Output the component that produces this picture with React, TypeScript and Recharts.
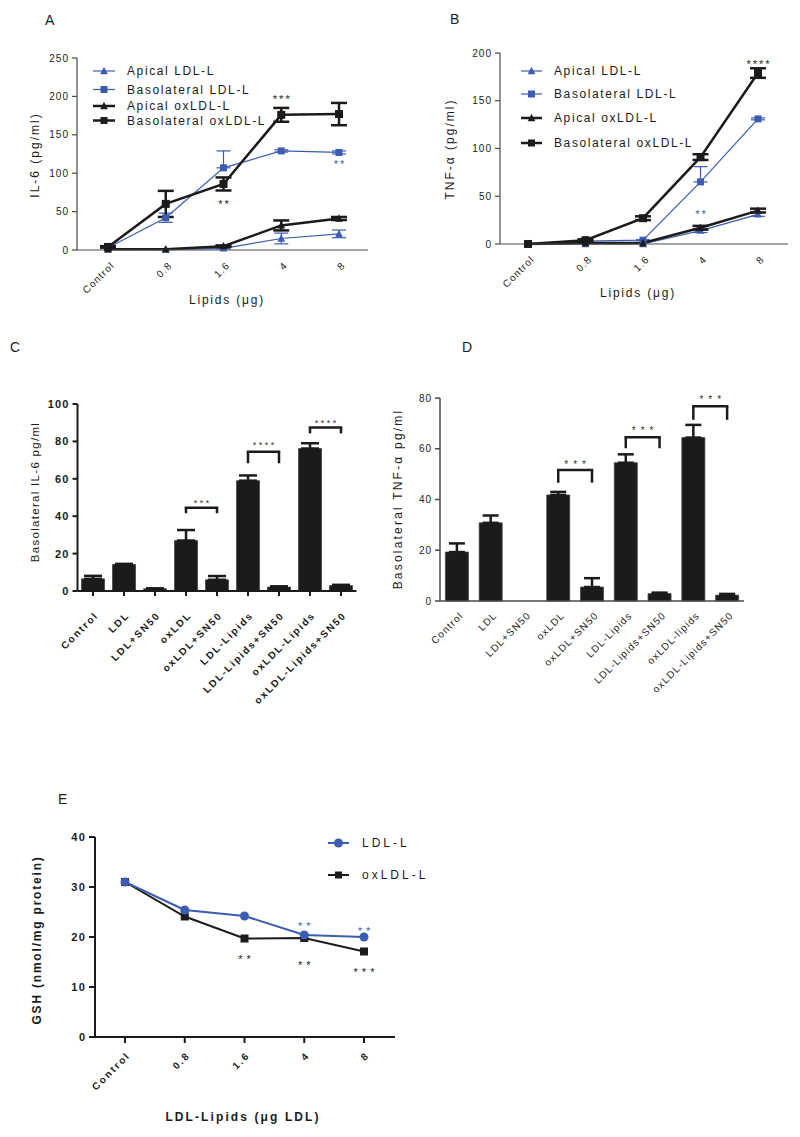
import React from "react";
import {
  LineChart, Line, BarChart, Bar, XAxis, YAxis, ErrorBar, ReferenceLine, ReferenceDot, Legend,
} from "recharts";

const FONT = '"Liberation Sans", Arial, Helvetica, sans-serif';
const BLUE = "#3b5cb0";
const INK = "#1b1b1b";
const GREY_AXIS = "#4a4a4a";

// shared x categories for the dose curves
const doses = ["Control", "0.8", "1.6", "4", "8"];

// A: IL-6 (pg/ml)
const il6ApicalLdl = [1, 0.5, 2, 15, 21];
const il6ApicalLdlErr = [0, 0, 0.5, 7, 5];
const il6BasoLdl = [3, 42, 107, 129, 127];
const il6BasoLdlErr = [0, 6, [0, 22], 1.5, 2];
const il6ApicalOx = [1, 1, 5, 32, 41];
const il6ApicalOxErr = [0, 0, 1, 6.5, 2];
const il6BasoOx = [4, 60, 86, 176, 177];
const il6BasoOxErr = [1, 17, 8.5, 9, 14.5];

// B: TNF-alpha (pg/ml)
const tnfApicalLdl = [0, 0, 0, 14, 31];
const tnfApicalLdlErr = [0, 0, 0, 2, 2];
const tnfBasoLdl = [0, 3, 4, 65, 131];
const tnfBasoLdlErr = [0, 0.5, 0.5, [0, 16], 1];
const tnfApicalOx = [0, 1, 1, 17, 35];
const tnfApicalOxErr = [0, 0, 0, 2, 2];
const tnfBasoOx = [0, 4, 27, 91, 179];
const tnfBasoOxErr = [0, 1, 2, 3, 5];

// C / D: bar groups
const groupsC = ["Control", "LDL", "LDL+SN50", "oxLDL", "oxLDL+SN50", "LDL-Lipids", "LDL-Lipids+SN50", "oxLDL-Lipids", "oxLDL-Lipids+SN50"];
const il6Bars = [6.5, 14.2, 1.2, 27, 6, 59, 2.1, 76.2, 2.9];
const il6BarsErr = [1.6, 0.3, 0.2, 5.6, 2, 2.8, 0.4, 2.8, 0.4];
const groupsD = ["Control", "LDL", "LDL+SN50", "oxLDL", "oxLDL+SN50", "LDL-Lipids", "LDL-Lipids+SN50", "oxLDL-lipids", "oxLDL-Lipids+SN50"];
const tnfBars = [19.3, 30.8, 0, 41.8, 5.5, 54.5, 2.9, 64.4, 2.3];
const tnfBarsErr = [3.4, 2.9, 0, 1.2, 3.5, 3.3, 0.4, 5, 0.5];

// significance brackets (data units)
const bracketsC = [
  { from: "oxLDL", to: "oxLDL+SN50", top: 44.5, foot: 41.6, stars: "***" },
  { from: "LDL-Lipids", to: "LDL-Lipids+SN50", top: 74.5, foot: 68.3, stars: "****" },
  { from: "oxLDL-Lipids", to: "oxLDL-Lipids+SN50", top: 87.5, foot: 84.3, stars: "****" },
];
const bracketsD = [
  { from: "oxLDL", to: "oxLDL+SN50", top: 51.6, foot: 46.6, stars: "***" },
  { from: "LDL-Lipids", to: "LDL-Lipids+SN50", top: 64.5, foot: 60.2, stars: "***" },
  { from: "oxLDL-lipids", to: "oxLDL-Lipids+SN50", top: 76.7, foot: 71.4, stars: "***" },
];

// E: GSH (nmol/mg protein)
const gshLdl = [31, 25.4, 24.2, 20.4, 20];
const gshOx = [31, 24.1, 19.7, 19.8, 17.1];

const rowsA = doses.map((d, i) => ({
  dose: d,
  apicalLdl: il6ApicalLdl[i], apicalLdlErr: il6ApicalLdlErr[i],
  basoLdl: il6BasoLdl[i], basoLdlErr: il6BasoLdlErr[i],
  apicalOx: il6ApicalOx[i], apicalOxErr: il6ApicalOxErr[i],
  basoOx: il6BasoOx[i], basoOxErr: il6BasoOxErr[i],
}));
const rowsB = doses.map((d, i) => ({
  dose: d,
  apicalLdl: tnfApicalLdl[i], apicalLdlErr: tnfApicalLdlErr[i],
  basoLdl: tnfBasoLdl[i], basoLdlErr: tnfBasoLdlErr[i],
  apicalOx: tnfApicalOx[i], apicalOxErr: tnfApicalOxErr[i],
  basoOx: tnfBasoOx[i], basoOxErr: tnfBasoOxErr[i],
}));
const rowsC = groupsC.map((g, i) => ({ group: g, value: il6Bars[i], err: [0, il6BarsErr[i]] }));
const rowsD = groupsD.map((g, i) => ({ group: g, value: tnfBars[i], err: tnfBarsErr[i] ? [0, tnfBarsErr[i]] : 0 }));
const rowsE = doses.map((d, i) => ({ dose: d, ldl: gshLdl[i], ox: gshOx[i] }));

// ---- markers ----
const triPath = (cx: number, cy: number, s: number) =>
  `M${cx},${cy - s * 0.6} L${cx + s * 0.55},${cy + s * 0.45} L${cx - s * 0.55},${cy + s * 0.45} Z`;

const triangle = (color: string, s: number) => (p: any) =>
  p.cx == null ? <g key={p.index} /> : <path key={p.index} d={triPath(p.cx, p.cy, s)} fill={color} />;
const square = (color: string, s: number) => (p: any) =>
  p.cx == null ? <g key={p.index} /> : <rect key={p.index} x={p.cx - s / 2} y={p.cy - s / 2} width={s} height={s} fill={color} />;
const circle = (color: string, r: number) => (p: any) =>
  p.cx == null ? <g key={p.index} /> : <circle key={p.index} cx={p.cx} cy={p.cy} r={r} fill={color} />;

// ---- text helpers ----
type TextOpts = { size: number; weight?: number; ls: number; fill?: string };
const txtStyle = (o: TextOpts) => ({ fontFamily: FONT, fontSize: o.size, fontWeight: o.weight || 400, letterSpacing: o.ls });

const angledTick = (dx: number, dy: number, o: TextOpts) => (p: any) => {
  const x = p.x + dx;
  const y = p.y + dy;
  return (
    <text key={p.index} x={x} y={y} transform={`rotate(-45 ${x} ${y})`} textAnchor="end" fill={o.fill || INK} style={txtStyle(o)}>
      {p.payload.value}
    </text>
  );
};

const yTick = (o: TextOpts) => (p: any) => (
  <text key={p.index} x={p.x + o.ls} y={p.y} textAnchor="end" dominantBaseline="central" fill={o.fill || INK} style={txtStyle(o)}>
    {p.payload.value}
  </text>
);

const title = (text: string, x: number, y: number, vertical: boolean, o: TextOpts) => () => (
  <text x={x} y={y} transform={vertical ? `rotate(-90 ${x} ${y})` : undefined} textAnchor="middle" dominantBaseline="central"
    fill={INK} style={txtStyle(o)}>
    {text}
  </text>
);

type LegendItem = { name: string; color: string; width: number; marker: "tri" | "sq" | "circ"; y: number };

const legendBox = (items: LegendItem[], x0: number, x1: number, tx: number, o: TextOpts) => () => (
  <svg width={800} height={200} style={{ overflow: "visible" }}>
    {items.map((it) => {
      const mx = (x0 + x1) / 2;
      return (
        <g key={it.name}>
          <line x1={x0} x2={x1} y1={it.y} y2={it.y} stroke={it.color} strokeWidth={it.width} />
          {it.marker === "tri" && <path d={triPath(mx, it.y, 7)} fill={it.color} />}
          {it.marker === "sq" && <rect x={mx - 3.5} y={it.y - 3.5} width={7} height={7} fill={it.color} />}
          {it.marker === "circ" && <circle cx={mx} cy={it.y} r={4.5} fill={it.color} />}
          <text x={tx} y={it.y} dominantBaseline="central" fill={INK} style={txtStyle(o)}>{it.name}</text>
        </g>
      );
    })}
  </svg>
);

// asterisks centred on a data point
const starDot = (x: string, y: number, text: string, color: string, size = 11, ls = 2) => (
  <ReferenceDot key={`${x}-${y}-${text}`} x={x} y={y} r={0} fill="none" stroke="none"
    label={(p: any) => (
      <text x={p.viewBox.x + ls / 2} y={p.viewBox.y} textAnchor="middle" dominantBaseline="central" fill={color}
        style={txtStyle({ size, ls })}>{text}</text>
    )} />
);

const bracket = (b: any, offset: number, o: TextOpts) => [
  <ReferenceLine key={b.from + "h"} segment={[{ x: b.from, y: b.top }, { x: b.to, y: b.top }]} stroke={INK} strokeWidth={2.5}
    strokeLinecap="square"
    label={(p: any) => (
      <text x={p.viewBox.x + p.viewBox.width / 2 + o.ls / 2} y={p.viewBox.y - offset} textAnchor="middle" fill="#333"
        style={txtStyle(o)}>{b.stars}</text>
    )} />,
  <ReferenceLine key={b.from + "l"} segment={[{ x: b.from, y: b.top }, { x: b.from, y: b.foot }]} stroke={INK} strokeWidth={2.5} />,
  <ReferenceLine key={b.from + "r"} segment={[{ x: b.to, y: b.top }, { x: b.to, y: b.foot }]} stroke={INK} strokeWidth={2.5} />,
];

const legendAB = (rows: number[]): LegendItem[] => [
  { name: "Apical LDL-L", color: BLUE, width: 1.2, marker: "tri", y: rows[0] },
  { name: "Basolateral LDL-L", color: BLUE, width: 1.2, marker: "sq", y: rows[1] },
  { name: "Apical oxLDL-L", color: INK, width: 2.5, marker: "tri", y: rows[2] },
  { name: "Basolateral oxLDL-L", color: INK, width: 2.5, marker: "sq", y: rows[3] },
];

const doseSeries = () => [
  <Line key="al" dataKey="apicalLdl" stroke={BLUE} strokeWidth={1.2} dot={triangle(BLUE, 7)} activeDot={false} isAnimationActive={false}>
    <ErrorBar dataKey="apicalLdlErr" width={7} stroke={BLUE} strokeWidth={1.2} direction="y" isAnimationActive={false} />
  </Line>,
  <Line key="bl" dataKey="basoLdl" stroke={BLUE} strokeWidth={1.2} dot={square(BLUE, 7)} activeDot={false} isAnimationActive={false}>
    <ErrorBar dataKey="basoLdlErr" width={7} stroke={BLUE} strokeWidth={1.2} direction="y" isAnimationActive={false} />
  </Line>,
  <Line key="ao" dataKey="apicalOx" stroke={INK} strokeWidth={2.5} dot={triangle(INK, 7)} activeDot={false} isAnimationActive={false}>
    <ErrorBar dataKey="apicalOxErr" width={8} stroke={INK} strokeWidth={2.5} direction="y" isAnimationActive={false} />
  </Line>,
  <Line key="bo" dataKey="basoOx" stroke={INK} strokeWidth={2.5} dot={square(INK, 8)} activeDot={false} isAnimationActive={false}>
    <ErrorBar dataKey="basoOxErr" width={8} stroke={INK} strokeWidth={2.5} direction="y" isAnimationActive={false} />
  </Line>,
];

const yTickLight: TextOpts = { size: 10, ls: 1, fill: "#222" };
const yTickBold: TextOpts = { size: 11, ls: 1.2, weight: 700 };

function PanelLetter({ ch, left, top }: { ch: string; left: number; top: number }) {
  return <div style={{ position: "absolute", left, top, fontSize: 14, lineHeight: "16px", fontFamily: FONT, color: INK }}>{ch}</div>;
}

export default function App() {
  return (
    <div style={{ position: "absolute", left: 0, top: 0, width: 800, height: 1137, background: "#fff", fontFamily: FONT }}>
      <PanelLetter ch="A" left={45} top={12} />
      <PanelLetter ch="B" left={450} top={11} />
      <PanelLetter ch="C" left={10} top={339} />
      <PanelLetter ch="D" left={462} top={339} />
      <PanelLetter ch="E" left={58} top={791} />

      {/* A */}
      <div style={{ position: "absolute", left: 0, top: 0 }}>
        <LineChart width={400} height={320} data={rowsA} margin={{ top: 58, right: 32, left: 0, bottom: 0 }}>
          <XAxis dataKey="dose" height={70} padding={{ left: 31, right: 29 }} interval={0} tickSize={0} tickMargin={0} tickLine={false}
            axisLine={{ stroke: GREY_AXIS, strokeWidth: 1.2 }}
            tick={angledTick(7, 16, { size: 10, ls: 1.1 })}
            label={title("Lipids (μg)", 227, 300, false, { size: 12, ls: 1.8 })} />
          <YAxis width={77} domain={[0, 250]} ticks={[0, 50, 100, 150, 200, 250]} tickSize={5} tickMargin={4}
            axisLine={{ stroke: GREY_AXIS, strokeWidth: 1.2 }} tickLine={{ stroke: GREY_AXIS, strokeWidth: 1.2 }} tick={yTick(yTickLight)}
            label={title("IL-6 (pg/ml)", 35, 155, true, { size: 12, ls: 2 })} />
          {doseSeries()}
          {starDot("4", 197, "***", INK)}
          {starDot("1.6", 60.5, "**", INK)}
          {starDot("8", 112.6, "**", BLUE)}
          <Legend layout="vertical" align="center" verticalAlign="middle" wrapperStyle={{ left: 0, top: 0 }}
            content={legendBox(legendAB([71, 89.5, 106, 120.5]), 93, 115, 127, { size: 12, ls: 1.6 })} />
        </LineChart>
      </div>

      {/* B */}
      <div style={{ position: "absolute", left: 400, top: 0 }}>
        <LineChart width={400} height={320} data={rowsB} margin={{ top: 53, right: 12, left: 0, bottom: 0 }}>
          <XAxis dataKey="dose" height={76} padding={{ left: 28, right: 30 }} interval={0} tickSize={0} tickMargin={0} tickLine={false}
            axisLine={{ stroke: GREY_AXIS, strokeWidth: 1.2 }}
            tick={angledTick(7, 16, { size: 10, ls: 1.1 })}
            label={title("Lipids (μg)", 238, 293, false, { size: 12, ls: 1.8 })} />
          <YAxis width={100} domain={[0, 200]} ticks={[0, 50, 100, 150, 200]} tickSize={5} tickMargin={4}
            axisLine={{ stroke: GREY_AXIS, strokeWidth: 1.2 }} tickLine={{ stroke: GREY_AXIS, strokeWidth: 1.2 }} tick={yTick(yTickLight)}
            label={title("TNF-α (pg/ml)", 50, 149, true, { size: 12, ls: 2 })} />
          {doseSeries()}
          {starDot("8", 188.8, "****", INK)}
          {starDot("4", 31.7, "**", BLUE)}
          <Legend layout="vertical" align="center" verticalAlign="middle" wrapperStyle={{ left: 0, top: 0 }}
            content={legendBox(legendAB([71, 94, 118, 143]), 121, 142, 154, { size: 12, ls: 1.6 })} />
        </LineChart>
      </div>

      {/* C */}
      <div style={{ position: "absolute", left: 0, top: 330 }}>
        <BarChart width={390} height={400} data={rowsC} margin={{ top: 74, right: 33.5, left: 0, bottom: 0 }} barCategoryGap="13%">
          <XAxis dataKey="group" height={139} interval={0} tickSize={5} tickMargin={0}
            axisLine={{ stroke: INK, strokeWidth: 2 }} tickLine={{ stroke: INK, strokeWidth: 2 }}
            tick={angledTick(6, 20, { size: 10, ls: 1.8, weight: 700 })} />
          <YAxis width={77.5} domain={[0, 100]} ticks={[0, 20, 40, 60, 80, 100]} tickSize={5} tickMargin={4}
            axisLine={{ stroke: INK, strokeWidth: 2 }} tickLine={{ stroke: INK, strokeWidth: 2 }} tick={yTick(yTickBold)}
            label={title("Basolateral IL-6 pg/ml", 35, 162, true, { size: 11.5, ls: 1.3 })} />
          <Bar dataKey="value" fill={INK} stroke="#444" strokeWidth={0.8} isAnimationActive={false}>
            <ErrorBar dataKey="err" width={9} stroke={INK} strokeWidth={2.5} direction="y" isAnimationActive={false} />
          </Bar>
          {bracketsC.map((b, i) => bracket(b, [1.6, 4, 1.5][i], { size: 9, ls: 2.5 }))}
        </BarChart>
      </div>

      {/* D */}
      <div style={{ position: "absolute", left: 390, top: 330 }}>
        <BarChart width={410} height={400} data={rowsD} margin={{ top: 68, right: 56, left: 0, bottom: 0 }} barCategoryGap="16%">
          <XAxis dataKey="group" height={129} interval={0} tickSize={0} tickMargin={0} tickLine={false}
            axisLine={{ stroke: GREY_AXIS, strokeWidth: 1.5 }}
            tick={angledTick(7, 15, { size: 10, ls: 1.2 })} />
          <YAxis width={50} domain={[0, 80]} ticks={[0, 20, 40, 60, 80]} tickSize={5} tickMargin={4}
            axisLine={{ stroke: GREY_AXIS, strokeWidth: 1.5 }} tickLine={{ stroke: GREY_AXIS, strokeWidth: 1.5 }} tick={yTick(yTickLight)}
            label={title("Basolateral TNF-α pg/ml", 8, 169, true, { size: 12, ls: 2.2 })} />
          <Bar dataKey="value" fill={INK} stroke="#444" strokeWidth={0.8} isAnimationActive={false}>
            <ErrorBar dataKey="err" width={8} stroke={INK} strokeWidth={2.5} direction="y" isAnimationActive={false} />
          </Bar>
          {bracketsD.map((b, i) => bracket(b, [2, 3, 3.5][i], { size: 10, ls: 5 }))}
        </BarChart>
      </div>

      {/* E */}
      <div style={{ position: "absolute", left: 0, top: 780 }}>
        <LineChart width={450} height={357} data={rowsE} margin={{ top: 57, right: 55, left: 0, bottom: 0 }}>
          <XAxis dataKey="dose" height={100} padding={{ left: 30, right: 31 }} interval={0} tickSize={6} tickMargin={0}
            axisLine={{ stroke: INK, strokeWidth: 2 }} tickLine={{ stroke: INK, strokeWidth: 2 }}
            tick={angledTick(6, 13, { size: 10, ls: 2, weight: 700 })}
            label={title("LDL-Lipids (μg LDL)", 243, 337, false, { size: 12, ls: 2.1, weight: 700 })} />
          <YAxis width={95} domain={[0, 40]} ticks={[0, 10, 20, 30, 40]} tickSize={6} tickMargin={4}
            axisLine={{ stroke: INK, strokeWidth: 2 }} tickLine={{ stroke: INK, strokeWidth: 2 }}
            tick={yTick({ ...yTickBold, ls: 1.5 })}
            label={title("GSH (nmol/mg protein)", 37, 160, true, { size: 12, ls: 1.8, weight: 700 })} />
          <Line dataKey="ox" stroke={INK} strokeWidth={2} dot={square(INK, 8)} activeDot={false} isAnimationActive={false} />
          <Line dataKey="ldl" stroke={BLUE} strokeWidth={2} dot={circle(BLUE, 4.5)} activeDot={false} isAnimationActive={false} />
          {starDot("1.6", 15.7, "**", INK, 11, 4)}
          {starDot("4", 14.5, "**", INK, 11, 4)}
          {starDot("8", 13.1, "***", INK, 11, 4)}
          {starDot("4", 22.3, "**", BLUE, 11, 4)}
          {starDot("8", 21.3, "**", BLUE, 11, 4)}
          <Legend layout="vertical" align="center" verticalAlign="middle" wrapperStyle={{ left: 0, top: 0 }}
            content={legendBox([
              { name: "LDL-L", color: BLUE, width: 2, marker: "circ", y: 63 },
              { name: "oxLDL-L", color: INK, width: 2, marker: "sq", y: 95 },
            ], 328, 349, 362, { size: 12, ls: 3 })} />
        </LineChart>
      </div>
    </div>
  );
}
